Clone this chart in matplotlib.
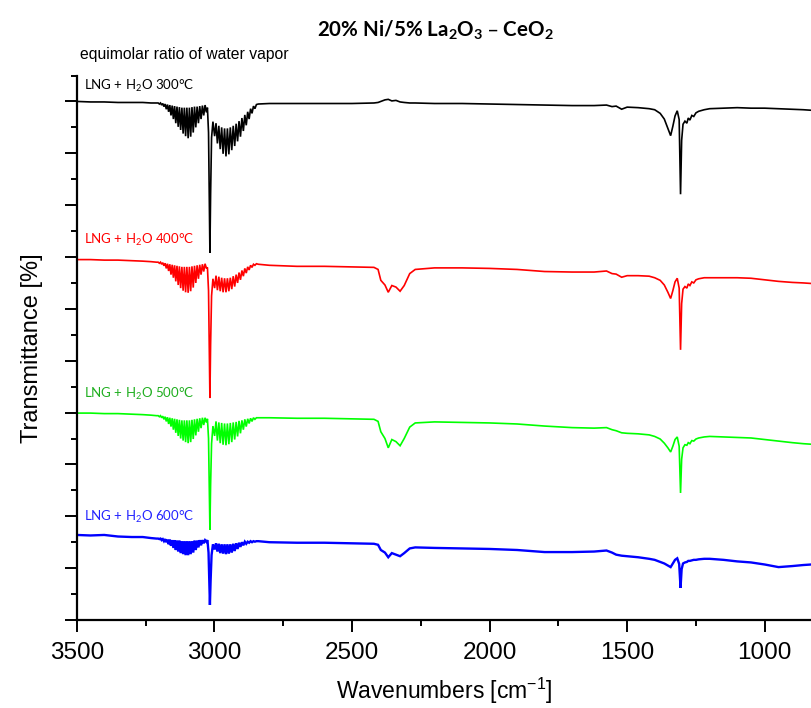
import matplotlib
matplotlib.use("Agg")
import matplotlib.pyplot as plt
from matplotlib.ticker import MultipleLocator
import numpy as np

# ---------------- data (wavenumbers in cm-1, transmittance in %) ----------------
HI_WN = [3500, 3450, 3400, 3350, 3300, 3260, 3230, 3210]

R_WN = [3204.0, 3199.7, 3195.5, 3191.4, 3187.2, 3183.0, 3178.7, 3174.5, 3170.2, 3166.0,
        3161.7, 3157.4, 3153.0, 3148.7, 3144.3, 3140.0, 3135.6, 3131.2, 3126.8, 3122.3,
        3117.8, 3113.3, 3108.8, 3104.3, 3099.7, 3095.1, 3090.5, 3085.9, 3081.2, 3076.6,
        3072.0, 3067.3, 3062.5, 3057.7, 3053.0, 3048.2, 3043.3, 3038.5, 3033.6, 3028.7]

Q_WN = [3025, 3021, 3018, 3016, 3013.5, 3010, 3005]

P_WN = [2998.9, 2993.8, 2988.8, 2983.6, 2978.5, 2973.3, 2968.1, 2962.8, 2957.6, 2952.4,
        2947.2, 2941.9, 2936.6, 2931.3, 2926.0, 2920.7, 2915.5, 2910.2, 2905.0, 2899.7,
        2894.5, 2889.2, 2884.0, 2878.7, 2873.5, 2868.2, 2863.0, 2857.7, 2852.5, 2847.0]

LO_WN = [2840, 2800, 2700, 2600, 2500, 2420, 2405, 2395, 2380, 2368, 2355, 2340, 2325, 2310,
         2290, 2270, 2200, 2100, 2000, 1900, 1800, 1700, 1620, 1575, 1555, 1540, 1520, 1500,
         1460, 1420, 1400, 1380, 1365, 1352, 1342, 1334, 1326, 1318, 1311, 1306, 1302, 1297,
         1290, 1283, 1278, 1272, 1265, 1258, 1250, 1240, 1220, 1200, 1150, 1100, 1050, 1000,
         950, 900, 860, 832]

labels = ["LNG + H$_{\\mathregular{2}}$O 300°C", "LNG + H$_{\\mathregular{2}}$O 400°C",
          "LNG + H$_{\\mathregular{2}}$O 500°C", "LNG + H$_{\\mathregular{2}}$O 600°C"]
colors = ["#000000", "#ff0000", "#00ff00", "#0000ff"]
label_colors = ["#000000", "#ff0000", "#1fae1f", "#2222ff"]

# 300 °C (black)
hi_300 = [100.0, 99.9, 99.9, 99.8, 99.8, 99.8, 99.7, 99.7]
r_300 = [99.7, 99.5, 99.7, 99.3, 99.6, 99.0, 99.5, 98.5, 99.4, 98.0,
         99.3, 97.3, 99.2, 96.6, 99.1, 95.8, 99.0, 95.1, 98.9, 94.5,
         98.8, 93.8, 98.8, 93.3, 98.8, 92.9, 98.8, 93.2, 98.9, 94.0,
         99.0, 95.0, 99.0, 95.8, 99.1, 96.6, 99.2, 97.3, 99.3, 97.9]
q_300 = [98.8, 94.0, 80.0, 70.8, 82.0, 93.0, 96.1]
p_300 = [93.3, 95.8, 91.9, 95.3, 90.8, 95.0, 89.9, 94.8, 89.4, 94.8,
         89.8, 95.0, 90.6, 95.3, 91.4, 95.7, 92.3, 96.2, 93.2, 96.8,
         94.3, 97.4, 95.4, 98.0, 96.6, 98.6, 97.7, 99.1, 98.6, 99.4]
lo_300 = [99.5, 99.6, 99.6, 99.6, 99.6, 99.7, 99.8, 100.0, 100.3, 100.4, 100.1, 100.2, 99.9, 99.8,
          99.7, 99.7, 99.6, 99.6, 99.5, 99.4, 99.3, 99.2, 99.2, 99.3, 99.0, 99.1, 98.5, 98.9,
          98.8, 98.6, 98.4, 97.7, 96.6, 94.8, 93.4, 95.2, 97.2, 98.2, 96.5, 82.1, 92.5, 95.6,
          96.2, 95.8, 96.8, 96.4, 97.3, 97.1, 97.8, 98.1, 98.4, 98.6, 98.7, 98.8, 98.7, 98.7,
          98.6, 98.5, 98.4, 98.3]

# 400 °C (red)
hi_400 = [69.5, 69.5, 69.4, 69.4, 69.3, 69.2, 69.1, 69.0]
r_400 = [69.0, 68.8, 69.0, 68.6, 68.9, 68.3, 68.8, 67.8, 68.7, 67.3,
         68.6, 66.6, 68.5, 66.0, 68.4, 65.3, 68.3, 64.6, 68.2, 64.0,
         68.1, 63.5, 68.1, 63.2, 68.1, 63.1, 68.1, 63.4, 68.2, 64.1,
         68.3, 65.0, 68.4, 65.8, 68.5, 66.6, 68.6, 67.2, 68.7, 67.8]
q_400 = [68.0, 63.5, 52.0, 42.8, 53.0, 62.5, 65.8]
p_400 = [64.0, 66.4, 63.6, 66.2, 63.4, 66.0, 63.2, 65.9, 63.2, 65.9,
         63.4, 66.0, 63.8, 66.3, 64.3, 66.6, 65.0, 67.0, 65.6, 67.4,
         66.3, 67.8, 66.9, 68.1, 67.5, 68.4, 68.0, 68.6, 68.4, 68.7]
lo_400 = [68.6, 68.4, 68.2, 68.2, 68.1, 68.0, 67.6, 65.5, 64.6, 63.2, 64.5, 64.2, 63.4, 64.5,
          66.8, 67.6, 67.9, 67.9, 67.8, 67.6, 67.2, 67.1, 67.1, 67.3, 66.8, 66.7, 66.1, 66.4,
          66.4, 66.3, 66.0, 65.5, 64.6, 63.2, 62.0, 63.5, 65.2, 65.9, 64.0, 52.1, 61.0, 63.8,
          64.3, 64.0, 64.8, 64.5, 65.2, 65.0, 65.6, 65.8, 66.0, 66.0, 66.0, 66.0, 65.9, 65.6,
          65.3, 65.1, 65.0, 64.9]

# 500 °C (green)
hi_500 = [39.9, 39.9, 39.8, 39.8, 39.7, 39.6, 39.5, 39.4]
r_500 = [39.4, 39.2, 39.4, 39.0, 39.3, 38.7, 39.2, 38.3, 39.1, 37.8,
         39.0, 37.3, 38.9, 36.7, 38.8, 36.1, 38.7, 35.5, 38.6, 35.0,
         38.5, 34.6, 38.5, 34.3, 38.5, 34.1, 38.5, 34.3, 38.6, 34.9,
         38.7, 35.6, 38.8, 36.3, 38.9, 37.0, 39.0, 37.6, 39.0, 38.1]
q_500 = [38.8, 35.0, 25.0, 17.4, 26.0, 34.0, 37.4]
p_500 = [35.5, 38.3, 34.6, 38.1, 34.1, 38.0, 33.8, 37.9, 33.7, 37.9,
         33.9, 38.0, 34.3, 38.1, 34.8, 38.2, 35.4, 38.4, 36.0, 38.5,
         36.7, 38.7, 37.3, 38.8, 37.9, 38.9, 38.3, 39.0, 38.7, 39.0]
lo_500 = [39.0, 39.0, 38.9, 38.9, 38.8, 38.7, 38.3, 36.3, 35.0, 33.2, 34.8, 34.4, 33.6, 35.0,
          37.2, 38.0, 38.2, 38.1, 38.0, 37.8, 37.4, 37.1, 37.0, 37.1, 36.7, 36.5, 36.1, 36.0,
          35.9, 35.7, 35.4, 34.9, 34.1, 33.2, 32.4, 33.5, 34.8, 35.3, 33.5, 24.5, 31.0, 33.2,
          33.8, 33.7, 34.2, 34.0, 34.6, 34.5, 34.9, 35.1, 35.3, 35.4, 35.3, 35.2, 35.1, 34.8,
          34.5, 34.2, 34.0, 33.9]

# 600 °C (blue)
hi_600 = [16.4, 16.3, 16.4, 16.1, 16.0, 16.0, 15.8, 15.7]
r_600 = [15.7, 15.6, 15.7, 15.4, 15.6, 15.2, 15.6, 15.0, 15.5, 14.6,
         15.5, 14.3, 15.4, 13.9, 15.4, 13.5, 15.3, 13.2, 15.3, 12.9,
         15.2, 12.7, 15.2, 12.5, 15.2, 12.5, 15.2, 12.7, 15.2, 13.0,
         15.3, 13.5, 15.3, 14.0, 15.4, 14.4, 15.4, 14.8, 15.4, 15.1]
q_600 = [15.4, 13.0, 7.0, 2.9, 7.5, 12.5, 14.6]
p_600 = [13.6, 14.8, 13.2, 14.7, 12.9, 14.6, 12.8, 14.6, 12.7, 14.6,
         12.8, 14.6, 13.0, 14.7, 13.3, 14.8, 13.7, 14.9, 14.1, 15.0,
         14.4, 15.1, 14.7, 15.1, 14.9, 15.2, 15.0, 15.2, 15.1, 15.2]
lo_600 = [15.2, 15.0, 14.9, 14.9, 14.8, 14.7, 14.5, 13.5, 13.0, 12.1, 12.9, 12.6, 12.3, 12.9,
          13.8, 14.0, 13.9, 13.8, 13.7, 13.5, 13.1, 13.1, 13.2, 13.4, 13.0, 12.6, 12.4, 12.3,
          12.1, 11.8, 11.6, 11.2, 10.9, 10.5, 10.2, 10.9, 11.6, 11.9, 10.8, 6.2, 9.8, 10.9,
          11.1, 11.2, 11.4, 11.4, 11.5, 11.6, 11.6, 11.7, 11.8, 11.8, 11.6, 11.3, 11.1, 10.7,
          10.2, 10.4, 10.6, 10.7]

series = [
    (hi_300, r_300, q_300, p_300, lo_300),
    (hi_400, r_400, q_400, p_400, lo_400),
    (hi_500, r_500, q_500, p_500, lo_500),
    (hi_600, r_600, q_600, p_600, lo_600),
]
label_y = [103.0, 73.3, 43.6, 19.9]
line_widths = [1.2, 1.2, 1.2, 1.7]

# ---------------- figure ----------------
fig = plt.figure(figsize=(8.11, 7.08), dpi=100)
ax = fig.add_axes([76.7 / 811, 88 / 708, 1 - 76.7 / 811, 544.5 / 708])

wn_all = HI_WN + R_WN + Q_WN + P_WN + LO_WN
for (hi, r, q, p, lo), c, lw in zip(series, colors, line_widths):
    vals = hi + r + q + p + lo
    assert len(vals) == len(wn_all)
    ax.plot(wn_all, vals, color=c, lw=lw, solid_joinstyle="miter")

ax.set_xlim(3500, 832)
ax.set_ylim(0, 105)
ax.xaxis.set_major_locator(MultipleLocator(500))
ax.xaxis.set_minor_locator(MultipleLocator(250))
ax.yaxis.set_major_locator(MultipleLocator(10))
ax.yaxis.set_minor_locator(MultipleLocator(5))
ax.set_yticklabels([])
ax.tick_params(which="major", direction="out", length=8.5, width=1.4)
ax.tick_params(which="minor", direction="out", length=4.5, width=1.4)
ax.tick_params(axis="x", labelsize=17.5, pad=7)
for lab in ax.get_xticklabels():
    lab.set_family("Liberation Sans")
for s in ["top", "right"]:
    ax.spines[s].set_visible(False)
for s in ["left", "bottom"]:
    ax.spines[s].set_linewidth(1.6)

ax.set_xlabel("Wavenumbers [cm$^{\\mathregular{-1}}$]", family="Liberation Sans",
              fontsize=16.5, labelpad=9)
ax.set_ylabel("Transmittance [%]", family="Liberation Sans", fontsize=17, labelpad=12.5)

for lab, ly, lc in zip(labels, label_y, label_colors):
    ax.text(3475, ly, lab, color=lc, fontsize=9.5, family="Lato", va="center", ha="left")

fig.text(0.537, 1 - 30 / 708, "20% Ni/5% La$_{\\mathregular{2}}$O$_{\\mathregular{3}}$ – CeO$_{\\mathregular{2}}$",
         ha="center", va="center", fontsize=14.8, fontweight="bold", family="Lato")
fig.text(80 / 811, 1 - 55 / 708, "equimolar ratio of water vapor", ha="left", va="center",
         fontsize=11.3, family="Liberation Sans")

fig.savefig("out.png", dpi=100)
